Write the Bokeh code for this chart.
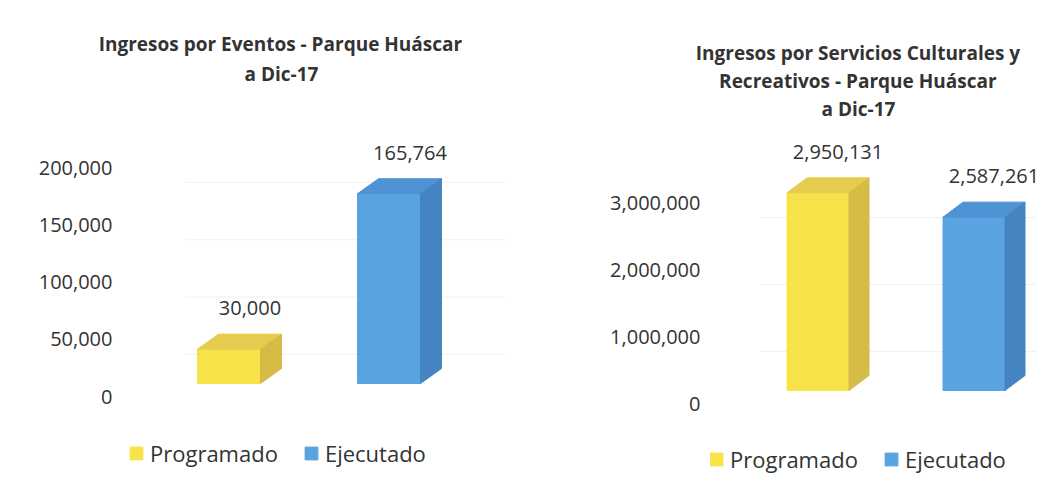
from bokeh.plotting import figure
from bokeh.models import (Range1d, FixedTicker, NumeralTickFormatter, Title,
                          Legend, LegendItem)
from bokeh.layouts import row
from bokeh.embed import file_html
from bokeh.resources import INLINE
from bokeh.core.properties import value

# ---------------- data ----------------
series = ["Programado", "Ejecutado"]
eventos_values = [30000, 165764]
servicios_values = [2950131, 2587261]
eventos_ticks = [0, 50000, 100000, 150000, 200000]
servicios_ticks = [0, 1000000, 2000000, 3000000]
eventos_title = ["Ingresos por Eventos - Parque Huáscar", "a Dic-17"]
servicios_title = ["Ingresos por Servicios Culturales y",
                   "Recreativos - Parque Huáscar", "a Dic-17"]

# ---------------- style ----------------
FRONT = ["#F8E24A", "#58A3E0"]
TOP = ["#E6CC4E", "#4E94D4"]
SIDE = ["#D6BB47", "#4584C0"]
TXT = "#333333"
FONT = "Open Sans"
H = 480
PAGE_TOP = 1
FRAME_TOP = 122   # both plots in the row share the same frame top


def make_chart(values, ticks, title_lines, title_offsets, title_standoffs,
               title_gap, fig_left, fig_width, frame_left, zero_px, top_px,
               centers_px, bar_w_px, dx_px, dy_px, lift_px, legend_xy,
               grid_x_px):
    frame_right = fig_left + fig_width
    k = (zero_px - top_px) / ticks[-1]          # px per data unit
    unit = centers_px[1] - centers_px[0]        # px per category step

    def ypx(py):
        return (zero_px - py) / k

    def xpx(px):
        return (px - centers_px[0]) / unit

    p = figure(width=fig_width, height=H, title=None,
               x_range=Range1d(xpx(frame_left), xpx(frame_right)),
               y_range=Range1d(ypx(PAGE_TOP + H), ypx(FRAME_TOP)),
               output_backend="svg", toolbar_location=None,
               x_axis_location=None, y_axis_location="left",
               min_border_left=frame_left - fig_left, min_border_right=0,
               min_border_top=FRAME_TOP - PAGE_TOP, min_border_bottom=0)
    p.outline_line_color = None
    p.xgrid.visible = False
    p.ygrid.visible = False

    ax = p.yaxis[0]
    ax.ticker = FixedTicker(ticks=ticks)
    ax.formatter = NumeralTickFormatter(format="0,0")
    ax.axis_line_color = None
    ax.major_tick_line_color = None
    ax.minor_tick_line_color = None
    ax.major_tick_out = 0
    ax.major_tick_in = 0
    ax.major_label_standoff = 10
    ax.major_label_text_font = FONT
    ax.major_label_text_font_size = "20px"
    ax.major_label_text_color = TXT

    # faint back-wall gridlines
    gshift = dy_px / k
    gy = [t - gshift for t in ticks[1:]]
    p.segment(x0=[xpx(grid_x_px[0])] * len(gy), x1=[xpx(grid_x_px[1])] * len(gy),
              y0=gy, y1=gy, line_color="#f0f0f0", line_width=1)

    w = bar_w_px / unit
    dx = dx_px / unit
    dy = dy_px / k
    lift = lift_px / k

    items = []
    for i, v in enumerate(values):
        l, r = i - w / 2, i + w / 2
        b, t = lift, lift + v
        front = p.quad(left=[l], right=[r], bottom=[b], top=[t],
                       fill_color=FRONT[i], line_color=FRONT[i])
        p.patches(xs=[[l, r, r + dx, l + dx]], ys=[[t, t, t + dy, t + dy]],
                  fill_color=TOP[i], line_color=TOP[i])
        p.patches(xs=[[r, r + dx, r + dx, r]], ys=[[b, b + dy, t + dy, t]],
                  fill_color=SIDE[i], line_color=SIDE[i])
        p.text(x=[i + dx], y=[t + dy], text=[f"{v:,}"],
               text_align="center", text_baseline="alphabetic", y_offset=-26,
               text_font=value(FONT), text_font_size="20px", text_color=TXT)
        items.append(LegendItem(label=series[i], renderers=[front]))

    # spacer between the title block and the plot area
    if title_gap > 0:
        p.add_layout(Title(text=" ", text_font_size="1px", standoff=title_gap),
                     "above")
    # title lines: last added sits on top
    for line, off, so in reversed(list(zip(title_lines, title_offsets,
                                           title_standoffs))):
        p.add_layout(Title(text=line, align="left", offset=off, standoff=so,
                           text_font=FONT, text_font_size="19px",
                           text_font_style="bold", text_color=TXT), "above")

    leg = Legend(items=items, location=legend_xy, orientation="horizontal",
                 label_text_font=FONT, label_text_font_size="22px",
                 label_text_color=TXT, glyph_width=16, glyph_height=16,
                 label_standoff=6, spacing=25, padding=0, margin=0,
                 border_line_color=None, background_fill_alpha=0)
    p.add_layout(leg)
    return p


p1 = make_chart(eventos_values, eventos_ticks, eventos_title,
                title_offsets=[-23.8, 122], title_standoffs=[3.5, 0.5],
                title_gap=30.5,
                fig_left=0, fig_width=528, frame_left=122,
                zero_px=397, top_px=168, centers_px=(228.5, 388.5),
                bar_w_px=63, dx_px=21, dy_px=15, lift_px=13,
                legend_xy=(6, 12), grid_x_px=(185, 505))

p2 = make_chart(servicios_values, servicios_ticks, servicios_title,
                title_offsets=[-14.7, 8.6, 111], title_standoffs=[0, 0, 0],
                title_gap=0,
                fig_left=528, fig_width=520, frame_left=710,
                zero_px=404, top_px=203, centers_px=(817.5, 973.5),
                bar_w_px=62, dx_px=20, dy_px=15, lift_px=13,
                legend_xy=(-2, 6), grid_x_px=(760, 1035))

layout = row(p1, p2, spacing=0)
open("out.html", "w").write(file_html(layout, INLINE))
